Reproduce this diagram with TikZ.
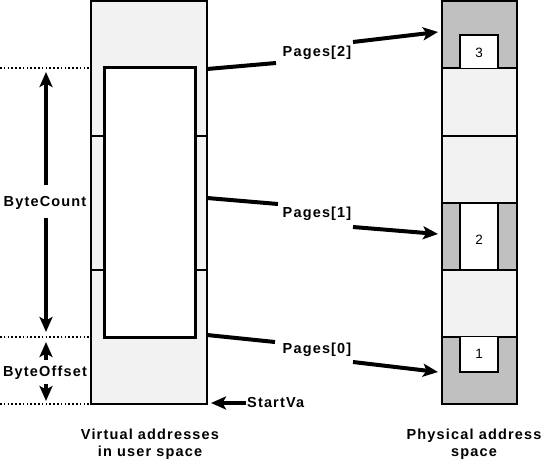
\documentclass[tikz,border=0pt]{standalone}
\usepackage{fontspec}
\setmainfont{Liberation Sans}
\usetikzlibrary{arrows.meta}
\definecolor{lightg}{HTML}{F2F2F2}
\definecolor{darkg}{HTML}{C0C0C0}
\begin{document}
\begin{tikzpicture}[x=1pt,y=-1pt,
  lbl/.style={font=\bfseries\fontsize{14.5}{16.5}\selectfont\addfontfeatures{LetterSpace=8}, inner sep=1pt},
  num/.style={font=\fontsize{13.5}{15}\selectfont, inner sep=0pt},
  border/.style={draw=black, line width=2pt},
  conn/.style={line width=4pt},
  arr/.style={line width=4pt, -{Stealth[length=15pt,width=13pt,inset=3.5pt]}},
  dots/.style={line width=1.6pt, dash pattern=on 1.6pt off 2.2pt},
  divider/.style={line width=1.5pt}]
\useasboundingbox (0,0) rectangle (549,460);

% ---- virtual column ----
\fill[lightg] (91,1) rectangle (207,404);
\draw[border] (91,1) rectangle (207,404);
\draw[divider] (91,136) -- (104,136) (195,136) -- (207,136);
\draw[divider] (91,270) -- (104,270) (195,270) -- (207,270);
\draw[fill=white, line width=3pt] (104,68) rectangle (195,337);

% dotted guide lines
\draw[dots] (0,68) -- (90,68);
\draw[dots] (0,337) -- (90,337);
\draw[dots] (0,404) -- (90,404);

% ---- physical column ----
\fill[darkg] (442,1) rectangle (517,68);
\fill[lightg] (442,68) rectangle (517,203);
\fill[darkg] (442,203) rectangle (517,270);
\fill[lightg] (442,270) rectangle (517,337);
\fill[darkg] (442,337) rectangle (517,404);
\draw[border] (442,1) rectangle (517,404);
\draw[border] (442,68) -- (517,68) (442,136) -- (517,136) (442,203) -- (517,203)
  (442,270) -- (517,270) (442,337) -- (517,337);
\draw[border, fill=white] (460,68) |- (498,35) -- (498,68);
\draw[border, fill=white] (460,203) rectangle (498,270);
\draw[border, fill=white] (460,337) |- (498,372) -- (498,337);
\node[num] (n3) at (479,53) {3};
\node[num] (n2) at (479,240) {2};
\node[num] (n1) at (479,354) {1};

% ---- labels ----
\node[lbl] (bc) at (45,203) {ByteCount};
\node[lbl] (bo) at (45,373) {ByteOffset};
\node[lbl, anchor=west] (sva) at (246,403) {StartVa};
\node[lbl] (p2) at (317,53) {Pages[2]};
\node[lbl] (p1) at (317,214) {Pages[1]};
\node[lbl] (p0) at (317,350) {Pages[0]};
\node[lbl, align=center] (vlab) at (150,444) {Virtual addresses\\in user space};
\node[lbl, align=center] (plab) at (474,444) {Physical address\\space};

% ---- connectors ----
\coordinate (s2) at (207,69);  \coordinate (a2) at (276,63);
\coordinate (b2) at (353,42);  \coordinate (t2) at (438,32);
\coordinate (s1) at (207,198); \coordinate (a1) at (278,204);
\coordinate (b1) at (353,227); \coordinate (t1) at (438,234);
\coordinate (s0) at (207,335); \coordinate (a0) at (275,342);
\coordinate (b0) at (353,362); \coordinate (t0) at (438,372);
\draw[conn] (s2) -- (a2);  \draw[arr] (b2) -- (t2);
\draw[conn] (s1) -- (a1);  \draw[arr] (b1) -- (t1);
\draw[conn] (s0) -- (a0);  \draw[arr] (b0) -- (t0);

% ByteCount arrows
\coordinate (bct) at (46,72);
\coordinate (bcb) at (46,332);
\draw[arr] (46,185) -- (bct);
\draw[arr] (46,218) -- (bcb);
% ByteOffset arrows
\coordinate (bot) at (46,342);
\coordinate (bob) at (46,401);
\draw[arr] (46,360) -- (bot);
\draw[arr] (46,384) -- (bob);
% StartVa arrow
\coordinate (svt) at (211,403);
\draw[arr] (sva.west) -- (svt);
\end{tikzpicture}
\end{document}
